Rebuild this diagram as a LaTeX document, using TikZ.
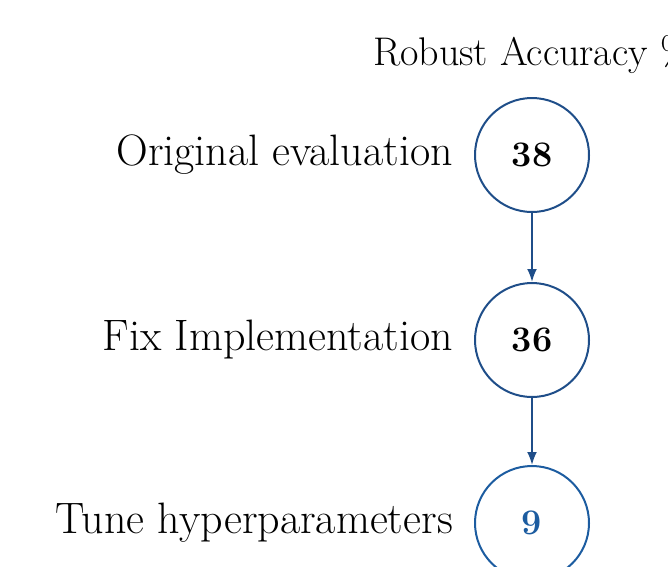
\documentclass[tikz,border=0pt]{standalone}
\usetikzlibrary{arrows}
\usetikzlibrary{arrows.meta}
\usetikzlibrary{positioning}

\definecolor{stepblue}{RGB}{31,78,137}
\definecolor{bestblue}{RGB}{28,92,160}

\begin{document}
\begin{tikzpicture}[x=1pt, y=1pt, font=\fontsize{44}{48}\selectfont]
    \useasboundingbox (0,0) rectangle (668,-566);

    \node [draw=stepblue, line width=2pt, circle, minimum size=114pt, inner sep=0pt, font=\fontsize{36}{40}\selectfont\bfseries] (orig) at (532,-155) {38};
    \node [draw=stepblue, line width=2pt, circle, minimum size=114pt, inner sep=0pt, font=\fontsize{36}{40}\selectfont\bfseries, below of=orig, node distance=185pt] (fix) {36};
    \node [draw=bestblue, line width=2pt, circle, minimum size=114pt, inner sep=0pt, font=\fontsize{36}{40}\selectfont\bfseries, text=bestblue, below of=fix, node distance=183pt] (tune) {9};

    \node [above=23pt of orig, inner sep=0pt, font=\fontsize{40}{44}\selectfont] (head) {Robust Accuracy \%};

    \node [left=21pt of orig, inner sep=0pt] (origtext) {Original evaluation};
    \node [left=21pt of fix, inner sep=0pt] (fixtext) {Fix Implementation};
    \node [left=21pt of tune, inner sep=0pt] (tunetext) {Tune hyperparameters};

    \draw [stepblue, line width=2pt, -{Latex[length=13pt,width=10pt]}] (orig) -- (fix);
    \draw [stepblue, line width=2pt, -{Latex[length=13pt,width=10pt]}] (fix) -- (tune);

\end{tikzpicture}
\end{document}
